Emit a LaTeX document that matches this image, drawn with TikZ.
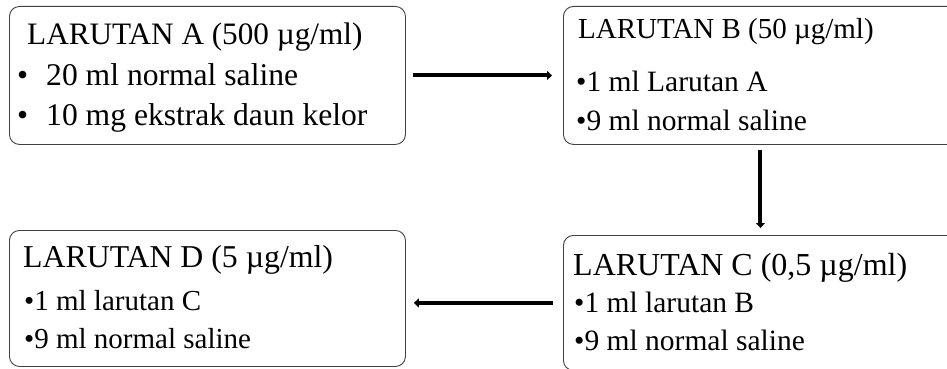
\documentclass[tikz,border=0pt]{standalone}
\usepackage{fontspec}
\setmainfont{Liberation Serif}
\usetikzlibrary{arrows.meta}
\newcommand{\fsz}[1]{\fontsize{#1}{#1}\selectfont}
\tikzset{
  box/.style={draw=black!75, line width=0.9pt, rounded corners=10pt, anchor=north west, inner sep=0pt},
  txt/.style={anchor=base west, inner sep=0pt, font=\fsz{29.5}},
  arr/.style={line width=4pt, -{Triangle[width=9pt,length=5pt]}}
}
\begin{document}
\begin{tikzpicture}[x=1pt,y=-1pt]
\useasboundingbox (0,0) rectangle (947,369);
\clip (0,0) rectangle (947,369);
\node[box, minimum width=396pt, minimum height=138pt] (A) at (9,6) {};
\node[box, minimum width=394pt, minimum height=138pt] (B) at (563,6) {};
\node[box, minimum width=394pt, minimum height=135pt] (C) at (563,235) {};
\node[box, minimum width=396pt, minimum height=136pt] (D) at (9,230) {};
\node[txt, font=\fsz{31.2}] (a1) at (27,45) {LARUTAN A (500 µg/ml)};
\node[txt, font=\fsz{31.6}] (a2) at (17,85) {•\hspace{18pt}20 ml normal saline};
\node[txt, font=\fsz{31.6}] (a3) at (17,125) {•\hspace{18pt}10 mg ekstrak daun kelor};
\node[txt, font=\fsz{29}] (b1) at (578,38) {LARUTAN B (50 µg/ml)};
\node[txt] (b2) at (576,91) {•1 ml Larutan A};
\node[txt] (b3) at (576,130) {•9 ml normal saline};
\node[txt, font=\fsz{32}] (c1) at (573,275) {LARUTAN C (0,5 µg/ml)};
\node[txt] (c2) at (574,312) {•1 ml larutan B};
\node[txt] (c3) at (574,350) {•9 ml normal saline};
\node[txt, font=\fsz{31.8}] (d1) at (23,267) {LARUTAN D (5 µg/ml)};
\node[txt, font=\fsz{29}] (d2) at (24,310) {•1 ml larutan C};
\node[txt, font=\fsz{29}] (d3) at (24,348) {•9 ml normal saline};
\draw[arr] ([xshift=7pt]A.east) -- ([xshift=-11pt]B.west);
\draw[arr] ([yshift=-5pt]B.south) -- ([yshift=7pt]C.north);
\draw[arr] ([xshift=-10pt]C.west) -- ([xshift=8pt]D.east |- C.west);
\end{tikzpicture}
\end{document}
